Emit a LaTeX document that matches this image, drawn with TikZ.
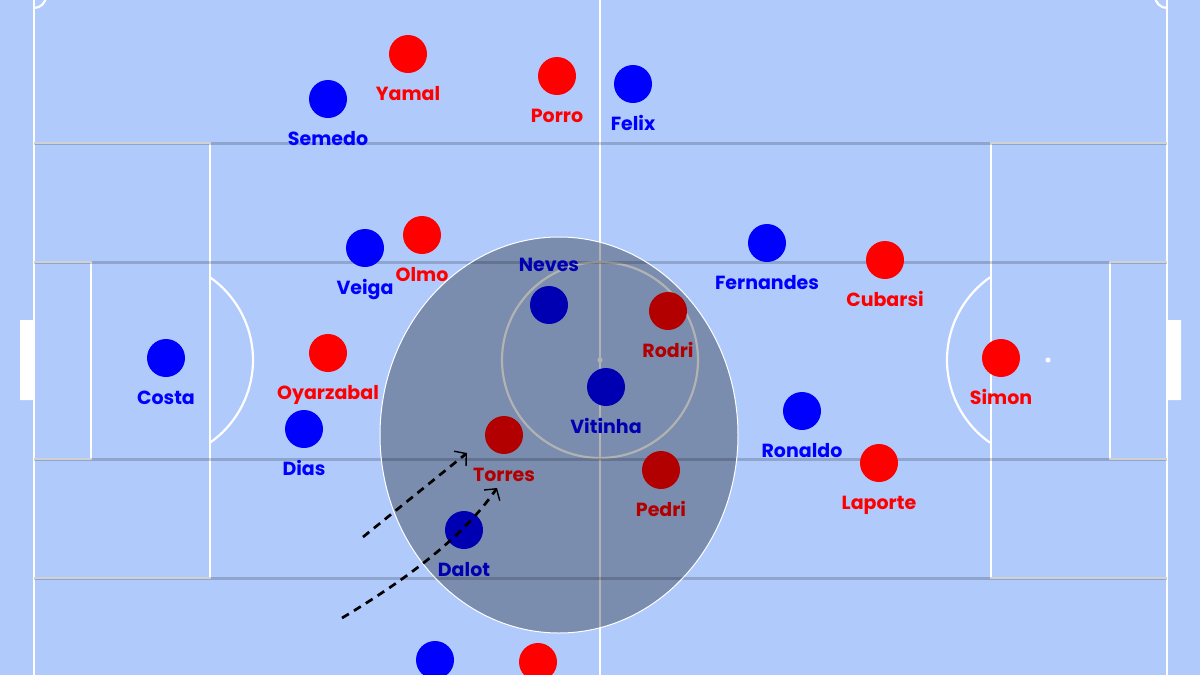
\documentclass[tikz,border=0pt]{standalone}
\usepackage{fontspec}
\setmainfont{Poppins}
\usepackage{tikz}
\usetikzlibrary{positioning,arrows.meta}
\definecolor{cpitch}{HTML}{B0CAFC}
\definecolor{cpor}{HTML}{0000FF}
\definecolor{cesp}{HTML}{FF0000}

\begin{document}
\begin{tikzpicture}[x=1pt,y=-1pt,
  pline/.style={white,line width=2.2pt},
  zone/.style={black,opacity=0.18,line width=3pt},
  pdot/.style={circle,minimum size=38pt,inner sep=0pt},
  por/.style={pdot,fill=cpor},
  esp/.style={pdot,fill=cesp},
  pname/.style={inner sep=0pt,font=\fontsize{19}{19}\selectfont\bfseries,text height=13.5pt,text depth=4pt},
  porname/.style={pname,text=cpor},
  espname/.style={pname,text=cesp},
  run/.style={black,line width=2.7pt,dash pattern=on 8pt off 6pt,-{Straight Barb[length=8pt,width=19pt,line width=1.4pt]}}]
  \useasboundingbox (0,0) rectangle (1200,675);
  \clip (0,0) rectangle (1200,675);
  \fill[cpitch] (0,0) rectangle (1200,675);
  \draw[pline] (34,0) -- (34,675) (1167,0) -- (1167,675) (600,0) -- (600,675);
  \fill[white] (20,320) rectangle (34,400) (1167,320) rectangle (1181,400);
  \draw[pline] (34,143) -- (210,143) -- (210,578) -- (34,578);
  \draw[pline] (34,262) -- (91,262) -- (91,459) -- (34,459);
  \draw[pline] (1167,143) -- (991,143) -- (991,578) -- (1167,578);
  \draw[pline] (1167,262) -- (1110,262) -- (1110,459) -- (1167,459);
  \draw[pline] (600,360) circle (98pt);
  \draw[pline] (152,360) ++(-55:101) arc[start angle=-55,end angle=55,radius=101];
  \draw[pline] (1048,360) ++(125:101) arc[start angle=125,end angle=235,radius=101];
  \draw[pline] (46,-4) arc[start angle=0,end angle=90,radius=12];
  \draw[pline] (1167,8) arc[start angle=90,end angle=180,radius=12];
  \fill[white] (600,360) circle (2.5pt) (1048,360) circle (2.5pt) (152,360) circle (2.5pt);
  \foreach \y in {143,262,459,578} \draw[zone] (34,\y) -- (1167,\y);
  \foreach \n/\x/\y/\t in {semedo/328/99/Semedo,felix/633/84/Felix,veiga/365/248/Veiga,fernandes/767/243/Fernandes,costa/166/358/Costa,vitinha/606/387/Vitinha,ronaldo/802/411/Ronaldo,dias/304/429/Dias,dalot/464/530/Dalot} {
    \node[por] (\n) at (\x,\y) {};
    \node[porname,below=14pt of \n] (\n-name) {\t};
  }
  \node[por] (neves) at (549,305) {};
  \node[porname,above=10.5pt of neves] (neves-name) {Neves};
  \foreach \n/\x/\y/\t in {yamal/408/54/Yamal,porro/557/76/Porro,olmo/422/235/Olmo,cubarsi/885/260/Cubarsi,rodri/668/311/Rodri,oyarzabal/328/353/Oyarzabal,simon/1001/358/Simon,torres/504/435/Torres,pedri/661/470/Pedri,laporte/879/463/Laporte} {
    \node[esp] (\n) at (\x,\y) {};
    \node[espname,below=14pt of \n] (\n-name) {\t};
  }
  \node[por] (porsub) at (435,660) {};
  \node[esp] (espsub) at (538,662) {};
  \draw[white,line width=1pt,fill=black,fill opacity=0.3] (559,435) ellipse [x radius=179pt,y radius=198pt];
  \coordinate (runa-s) at (363,537);
  \coordinate (runa-e) at (467,453);
  \coordinate (runb-s) at (342,618);
  \coordinate (runb-e) at (497,488);
  \draw[run] (runa-s) -- (runa-e);
  \draw[run] (runb-s) .. controls (402,582) and (462,539) .. (runb-e);
\end{tikzpicture}
\end{document}
